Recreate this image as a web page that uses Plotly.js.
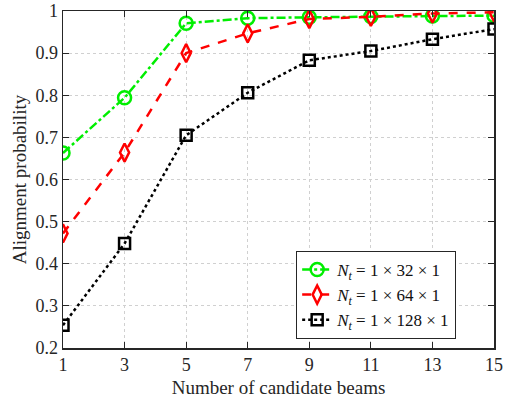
<!DOCTYPE html>
<html><head><meta charset="utf-8">
<script src="https://cdn.plot.ly/plotly-3.0.1.min.js"></script>
<style>body{margin:0;background:#fff}#c{width:514px;height:401px}</style>
</head><body><div id="c"></div>
<script>
const beams = [1, 3, 5, 7, 9, 11, 13, 15];
const nt32 = [0.663, 0.794, 0.971, 0.983, 0.985, 0.987, 0.988, 0.989];
const nt64 = [0.472, 0.664, 0.900, 0.947, 0.981, 0.986, 0.994, 0.997];
const nt128 = [0.254, 0.448, 0.705, 0.806, 0.883, 0.905, 0.933, 0.957];
const names = ['<i>N</i><sub><i>t</i></sub> = 1 × 32 × 1', '<i>N</i><sub><i>t</i></sub> = 1 × 64 × 1', '<i>N</i><sub><i>t</i></sub> = 1 × 128 × 1'];
const xTicks = beams;
const yTicks = [0.2,0.3,0.4,0.5,0.6,0.7,0.8,0.9,1];
const yTickText = ['0.2','0.3','0.4','0.5','0.6','0.7','0.8','0.9','1'];
const serif = 'Liberation Serif';

const traces = [
 {x: beams, y: nt32, name: names[0], mode:'lines+markers',
  line:{color:'#00ee00', width:2.5, dash:'dashdot'},
  marker:{symbol:'circle-open', size:13, color:'#00ee00', line:{width:2.5}}},
 {x: beams, y: nt64, name: names[1], mode:'lines+markers',
  line:{color:'#ff0000', width:2.5, dash:'dash'},
  marker:{symbol:'diamond-tall-open', size:13, color:'#ff0000', line:{width:2.5}}},
 {x: beams, y: nt128, name: names[2], mode:'lines+markers',
  line:{color:'#000000', width:2.5, dash:'dot'},
  marker:{symbol:'square-open', size:11, color:'#000000', line:{width:2.5}}}
];
const axisCommon = {showline:true, mirror:'ticks', linecolor:'#262626', linewidth:1.5,
  ticks:'inside', ticklen:6, tickcolor:'#262626', showgrid:true, gridcolor:'#d0d0d0',
  griddash:'dot', gridwidth:1, zeroline:false,
  tickfont:{family:serif, size:18, color:'#262626'}};
const layout = {
  width:514, height:401, margin:{l:63, r:20, t:11, b:53},
  paper_bgcolor:'#fff', plot_bgcolor:'#fff',
  font:{family:serif, color:'#262626'},
  showlegend:true,
  legend:{x:0.541, y:0.288, xanchor:'left', yanchor:'top', bgcolor:'#fff', bordercolor:'#262626', borderwidth:1,
    font:{family:serif, size:17, color:'#111'}, tracegroupgap:0},
  xaxis: Object.assign({}, axisCommon, {range:[1,15], tickvals:xTicks, ticktext:xTicks.map(String),
    title:{text:'Number of candidate beams', font:{size:19, family:serif, color:'#262626'}, standoff:6}}),
  yaxis: Object.assign({}, axisCommon, {range:[0.2,1], tickvals:yTicks, ticktext:yTickText,
    title:{text:'Alignment probability', font:{size:19, family:serif, color:'#262626'}, standoff:4}})
};
Plotly.newPlot('c', traces, layout, {displayModeBar:false, staticPlot:true});
</script></body></html>
